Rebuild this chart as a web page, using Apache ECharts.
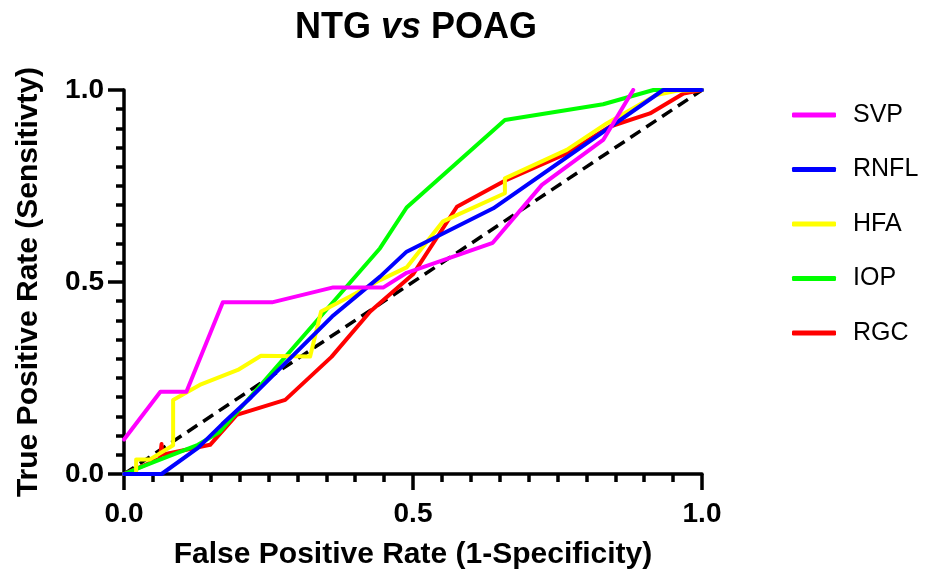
<!DOCTYPE html>
<html><head><meta charset="utf-8">
<script src="https://cdn.jsdelivr.net/npm/echarts@6/dist/echarts.min.js"></script>
<style>html,body{margin:0;padding:0;background:#fff}#c{width:938px;height:579px}</style>
</head><body><div id="c"></div>
<script>
const seriesNames = ['SVP', 'RNFL', 'HFA', 'IOP', 'RGC'];
const seriesColors = ['#FF00FF', '#0000FF', '#FFFF00', '#00FF00', '#FF0000'];
const tickValues = [0, 0.5, 1.0];
const svp = [[0,0.09],[0.063,0.214],[0.108,0.214],[0.171,0.447],[0.256,0.447],[0.362,0.486],[0.449,0.486],[0.489,0.524],[0.638,0.602],[0.723,0.753],[0.829,0.870],[0.881,1.0]];
const rnfl = [[0,0],[0.065,0],[0.128,0.068],[0.17,0.13],[0.22,0.2],[0.36,0.41],[0.443,0.514],[0.489,0.579],[0.639,0.692],[0.933,1.0],[1.0,1.0]];
const hfa = [[0,0],[0.021,0],[0.021,0.038],[0.045,0.038],[0.085,0.075],[0.085,0.193],[0.108,0.212],[0.131,0.232],[0.197,0.271],[0.237,0.308],[0.322,0.306],[0.341,0.423],[0.391,0.462],[0.443,0.505],[0.489,0.538],[0.552,0.658],[0.659,0.731],[0.659,0.77],[0.766,0.844],[0.835,0.913],[0.921,0.987],[0.956,0.998],[1,1]];
const iop = [[0,0],[0.05,0.03],[0.128,0.076],[0.166,0.11],[0.443,0.588],[0.489,0.694],[0.659,0.922],[0.829,0.963],[0.916,1.0],[1,1]];
const rgc = [[0,0],[0.062,0.04],[0.065,0.04],[0.065,0.078],[0.066,0.05],[0.149,0.076],[0.195,0.154],[0.279,0.193],[0.359,0.305],[0.426,0.423],[0.5,0.52],[0.576,0.696],[0.662,0.766],[0.766,0.835],[0.841,0.905],[0.91,0.939],[0.968,0.991],[1,1]];
const reference = [[0,0],[1,1]];
const seriesData = [svp, rnfl, hfa, iop, rgc];

const FONT = '"Liberation Sans", Arial, sans-serif';
const chart = echarts.init(document.getElementById('c'), null, {renderer: 'canvas'});

const axisCommon = {
  type: 'value', min: 0, max: 1, interval: 0.5,
  nameLocation: 'middle',
  nameTextStyle: {fontFamily: FONT, fontWeight: 'bold', fontSize: 30, color: '#000'},
  axisLine: {show: true, onZero: false, lineStyle: {color: '#000', width: 3.5}},
  axisTick: {show: true, inside: false, length: 16, lineStyle: {color: '#000', width: 3.5}},
  minorTick: {show: true, splitNumber: 10, length: 8, lineStyle: {color: '#000', width: 3.5}},
  splitLine: {show: false}, minorSplitLine: {show: false},
  axisLabel: {fontFamily: FONT, fontWeight: 'bold', fontSize: 28, color: '#000', showMinLabel: true, showMaxLabel: true,
    formatter: v => tickValues.indexOf(v) >= 0 ? v.toFixed(1) : ''}
};

const lineSeries = seriesNames.map((n, i) => ({
  name: n, type: 'line', data: seriesData[i], showSymbol: false, symbol: 'none',
  lineStyle: {color: seriesColors[i], width: 4, cap: 'round', join: 'round'},
  itemStyle: {color: seriesColors[i]},
  z: 10 - i, animation: false
}));

chart.setOption({
  animation: false,
  backgroundColor: '#fff',
  title: {
    text: '{a|NTG }{b|vs}{a| POAG}', left: 411, top: 5, textAlign: 'center',
    textStyle: {rich: {
      a: {fontFamily: FONT, fontWeight: 'bold', fontSize: 36, color: '#000'},
      b: {fontFamily: FONT, fontWeight: 'bold', fontStyle: 'italic', fontSize: 36, color: '#000'}
    }}
  },
  grid: {left: 124, right: 236, top: 90, bottom: 105, containLabel: false},
  xAxis: Object.assign({}, axisCommon, {
    name: 'False Positive Rate (1-Specificity)', nameGap: 66,
    axisLabel: Object.assign({}, axisCommon.axisLabel, {margin: 26})}),
  yAxis: Object.assign({}, axisCommon, {
    name: 'True Positive Rate (Sensitivty)', nameGap: 80, nameRotate: 90,
    axisLabel: Object.assign({}, axisCommon.axisLabel, {margin: 20})}),
  legend: {
    data: seriesNames, orient: 'vertical', left: 787, top: 95,
    icon: 'roundRect', itemWidth: 44, itemHeight: 5, itemGap: 24.5,
    textStyle: {fontFamily: FONT, fontSize: 25, color: '#000', lineHeight: 30, padding: [0, 0, 0, 12]},
    selectedMode: false
  },
  series: [{
    name: 'ref', type: 'line', data: reference, showSymbol: false, symbol: 'none',
    lineStyle: {color: '#000', width: 3.5, type: [12, 7]}, z: 2, silent: true
  }].concat(lineSeries)
});
</script></body></html>
